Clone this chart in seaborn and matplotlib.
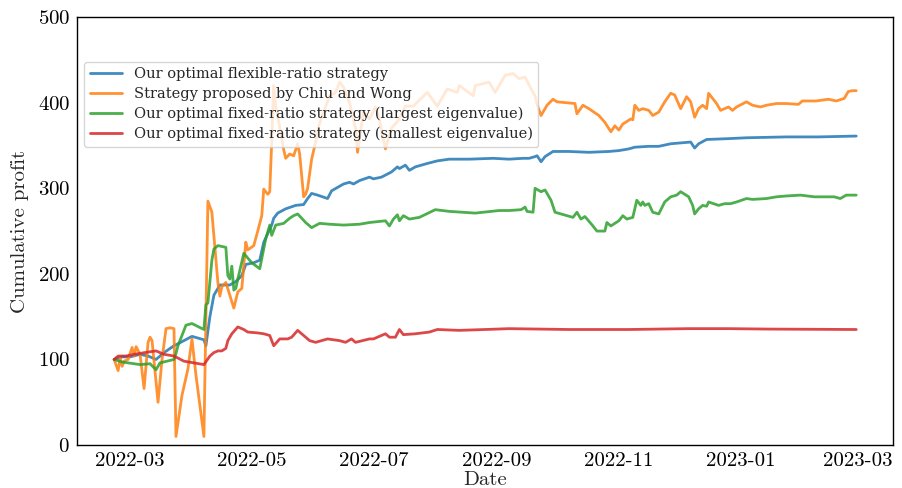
import matplotlib
matplotlib.use("Agg")
import matplotlib.pyplot as plt
import matplotlib.dates as mdates
import numpy as np
import pandas as pd
import seaborn as sns

# Cumulative profit of four pairs-trading strategies, days counted from 2022-02-21
START = "2022-02-21"

labels = [
    "Our optimal flexible-ratio strategy",
    "Strategy proposed by Chiu and Wong",
    "Our optimal fixed-ratio strategy (largest eigenvalue)",
    "Our optimal fixed-ratio strategy (smallest eigenvalue)",
]

flex_days = [0, 4, 8, 13, 17, 21, 25, 30, 35, 39, 45, 46, 48, 50, 53, 58, 61, 64, 66, 70,
             73, 75, 79, 80, 82, 86, 91, 95, 97, 99, 102, 107, 109, 112, 115, 118, 120, 123,
             128, 130, 134, 139, 142, 143, 146, 148, 151, 157, 162, 168, 178, 190, 198, 205,
             208, 211, 212, 214, 216, 220, 228, 238, 248, 253, 258, 261, 268, 273, 279, 289,
             291, 293, 297, 308, 317, 337, 353, 372]
flex_vals = [100, 103, 103, 106, 104, 100, 108, 116, 122, 127, 123, 116, 150, 175, 187, 187,
             191, 198, 211, 213, 216, 237, 257, 265, 271, 276, 280, 281, 288, 294, 292, 288,
             297, 301, 305, 307, 305, 309, 313, 311, 313, 319, 325, 323, 327, 321, 325, 329,
             332, 334, 334, 335, 334, 335, 335, 337, 338, 331, 337, 343, 343, 342, 343, 344,
             346, 348, 349, 349, 352, 354, 347, 352, 357, 358, 359, 360, 360, 361]

cw_days = [0, 2, 3, 4, 5, 7, 9, 10, 11, 13, 15, 17, 18, 19, 22, 24, 26, 28, 30, 31, 34, 37,
           39, 41, 45, 47, 49, 50, 52, 53, 54, 56, 58, 60, 62, 64, 66, 67, 70, 72, 74, 75, 77,
           78, 79, 80, 81, 83, 85, 86, 88, 90, 92, 93, 95, 96, 97, 99, 101, 103, 106, 108,
           111, 113, 115, 118, 121, 122, 125, 128, 131, 133, 136, 139, 143, 146, 150, 157,
           162, 167, 172, 173, 180, 181, 188, 191, 196, 200, 203, 206, 209, 211, 212, 214,
           217, 220, 222, 231, 232, 235, 238, 243, 246, 249, 251, 253, 255, 259, 260, 261,
           263, 265, 268, 270, 273, 276, 279, 281, 284, 287, 289, 291, 293, 295, 297, 298,
           302, 304, 308, 310, 312, 317, 320, 324, 327, 332, 337, 343, 345, 352, 358, 362,
           366, 368, 370, 372]
cw_vals = [100, 87, 102, 92, 98, 100, 114, 104, 115, 106, 66, 120, 126, 122, 50, 100, 136,
           137, 136, 10, 58, 89, 124, 82, 10, 285, 272, 245, 190, 174, 185, 190, 175, 160,
           179, 183, 237, 228, 233, 250, 268, 299, 293, 296, 355, 420, 395, 372, 345, 335,
           340, 338, 352, 340, 290, 293, 300, 334, 354, 376, 395, 408, 412, 424, 418, 400,
           370, 342, 389, 381, 395, 380, 346, 370, 381, 396, 396, 412, 396, 416, 412, 420,
           408, 420, 424, 412, 432, 434, 428, 430, 416, 408, 398, 385, 397, 404, 401, 399,
           387, 397, 393, 385, 377, 366, 373, 368, 375, 381, 380, 397, 391, 393, 391, 385,
           389, 401, 411, 409, 393, 407, 401, 383, 393, 397, 393, 411, 399, 391, 395, 391,
           395, 401, 397, 395, 397, 399, 399, 398, 402, 402, 404, 402, 405, 413, 414, 414]

large_days = [0, 4, 7, 13, 18, 21, 23, 30, 31, 32, 36, 39, 45, 46, 47, 49, 50, 52, 56, 57,
              58, 59, 60, 61, 62, 65, 69, 73, 76, 78, 79, 81, 85, 88, 90, 92, 96, 99, 103,
              108, 115, 123, 128, 136, 138, 140, 142, 143, 145, 148, 153, 161, 168, 181, 193,
              198, 204, 206, 207, 210, 211, 214, 216, 219, 221, 230, 232, 234, 236, 240, 242,
              246, 247, 249, 253, 255, 257, 260, 262, 264, 265, 266, 268, 270, 273, 276, 279,
              282, 284, 288, 290, 291, 293, 295, 297, 298, 303, 306, 309, 312, 317, 320, 327,
              332, 337, 344, 351, 361, 364, 367, 372]
large_vals = [100, 97, 96, 94, 95, 88, 96, 100, 107, 116, 140, 142, 135, 164, 166, 216, 229,
              233, 231, 198, 194, 209, 181, 183, 194, 224, 213, 206, 241, 257, 245, 257, 259,
              265, 268, 270, 260, 254, 259, 258, 257, 258, 260, 262, 256, 264, 269, 262, 268,
              264, 266, 275, 273, 271, 274, 274, 275, 278, 273, 272, 300, 296, 298, 286, 272,
              266, 272, 264, 267, 256, 250, 250, 260, 256, 262, 268, 264, 266, 286, 280, 284,
              280, 282, 272, 270, 284, 290, 292, 296, 290, 280, 270, 276, 280, 279, 284, 280,
              282, 282, 284, 288, 287, 288, 290, 291, 292, 290, 290, 288, 292, 292]

small_days = [0, 2, 6, 10, 18, 21, 25, 30, 35, 40, 45, 48, 50, 52, 54, 56, 57, 59, 62, 65,
              67, 72, 75, 78, 80, 83, 87, 89, 92, 94, 98, 101, 107, 113, 116, 119, 121, 128,
              130, 136, 138, 141, 143, 145, 151, 158, 162, 173, 186, 198, 228, 258, 288, 308,
              328, 372]
small_vals = [100, 104, 104, 106, 109, 110, 106, 104, 98, 96, 94, 104, 108, 110, 110, 113,
              122, 130, 138, 135, 132, 131, 130, 128, 116, 124, 124, 126, 134, 130, 122, 120,
              124, 122, 120, 124, 120, 124, 124, 130, 126, 126, 135, 129, 130, 132, 135, 134,
              135, 136, 135, 135, 136, 136, 135.5, 135]

series = [(flex_days, flex_vals), (cw_days, cw_vals),
          (large_days, large_vals), (small_days, small_vals)]

frames = []
for name, (days, vals) in zip(labels, series):
    frames.append(pd.DataFrame({
        "Date": pd.Timestamp(START) + pd.to_timedelta(days, unit="D"),
        "Cumulative profit": vals,
        "Strategy": name,
    }))
df = pd.concat(frames, ignore_index=True)

sns.set_style("white")
plt.rcParams["font.family"] = ["cmr10", "DejaVu Serif"]
plt.rcParams["axes.formatter.use_mathtext"] = True

fig = plt.figure(figsize=(9.02, 4.88), dpi=100)
ax = fig.add_axes([0.0854, 0.088, 0.905, 0.877])

palette = ["#1f77b4", "#ff7f0e", "#2ca02c", "#d62728"]
sns.lineplot(data=df, x="Date", y="Cumulative profit", hue="Strategy",
             hue_order=labels, palette=palette, estimator=None, sort=False,
             linewidth=2.0, alpha=0.85, ax=ax)

ax.set_ylim(0, 500)
ax.set_yticks([0, 100, 200, 300, 400, 500])
ax.xaxis.set_major_locator(mdates.MonthLocator(bymonth=[1, 3, 5, 7, 9, 11]))
ax.xaxis.set_major_formatter(mdates.DateFormatter("%Y-%m"))

ax.set_xlabel("Date", fontsize=15, labelpad=1)
ax.set_ylabel("Cumulative profit", fontsize=15, labelpad=6)
ax.tick_params(axis="both", labelsize=15, direction="in", length=4, width=0.8,
               colors="black", pad=5)
for side in ["left", "right", "top", "bottom"]:
    ax.spines[side].set_visible(True)
    ax.spines[side].set_color("black")
    ax.spines[side].set_linewidth(1.0)

handles, lbls = ax.get_legend_handles_labels()
ax.legend(handles, lbls, loc="upper left", bbox_to_anchor=(0.0086, 0.896),
          borderaxespad=0, frameon=True, framealpha=0.8, edgecolor="#cccccc",
          prop={"family": "DejaVu Serif", "size": 10.5}, handlelength=2.2,
          labelspacing=0.38, borderpad=0.4)

fig.savefig("out.png", dpi=100)
